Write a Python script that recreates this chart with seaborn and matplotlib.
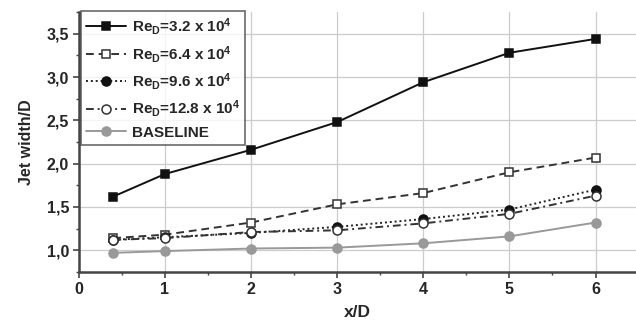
import matplotlib
matplotlib.use("Agg")
import matplotlib.pyplot as plt
import seaborn as sns
import pandas as pd
import numpy as np

x_d = [0.4, 1, 2, 3, 4, 5, 6]
re32 = [1.62, 1.88, 2.16, 2.48, 2.94, 3.28, 3.44]
re64 = [1.14, 1.18, 1.32, 1.53, 1.66, 1.90, 2.07]
re96 = [1.12, 1.15, 1.20, 1.27, 1.36, 1.47, 1.70]
re128 = [1.12, 1.14, 1.21, 1.23, 1.31, 1.42, 1.63]
baseline = [0.97, 0.99, 1.02, 1.03, 1.08, 1.16, 1.32]

labels = [r"Re$_\mathbf{D}$=3.2 x 10$^\mathbf{4}$",
          r"Re$_\mathbf{D}$=6.4 x 10$^\mathbf{4}$",
          r"Re$_\mathbf{D}$=9.6 x 10$^\mathbf{4}$",
          r"Re$_\mathbf{D}$=12.8 x 10$^\mathbf{4}$",
          "BASELINE"]
series = [re32, re64, re96, re128, baseline]

xticks = [0, 1, 2, 3, 4, 5, 6]
yticks = [1.0, 1.5, 2.0, 2.5, 3.0, 3.5]
ytick_labels = ["1,0", "1,5", "2,0", "2,5", "3,0", "3,5"]

sns.set_style("white")
plt.rcParams["font.family"] = ["Liberation Sans", "DejaVu Sans"]
plt.rcParams["font.weight"] = "bold"
plt.rcParams["mathtext.fontset"] = "custom"
plt.rcParams["mathtext.rm"] = "Liberation Sans:bold"
plt.rcParams["mathtext.bf"] = "Liberation Sans:bold"
plt.rcParams["mathtext.default"] = "bf"

fig = plt.figure(figsize=(6.36, 3.26), dpi=100)
ax = fig.add_axes([0.124, 0.166, 0.876, 0.797])

styles = [
    dict(color="#111111", linestyle="-", marker="s", mfc="#111111", mec="#111111"),
    dict(color="#333333", linestyle=(0, (4, 2.5)), marker="s", mfc="white", mec="#333333"),
    dict(color="#222222", linestyle=(0, (1, 1.5)), marker="o", mfc="#111111", mec="#111111"),
    dict(color="#333333", linestyle=(0, (4, 2, 1, 2)), marker="o", mfc="white", mec="#333333"),
    dict(color="#999999", linestyle="-", marker="o", mfc="#999999", mec="#999999"),
]

for vals, lab, st in zip(series, labels, styles):
    df = pd.DataFrame({"x": x_d, "y": vals})
    sns.lineplot(data=df, x="x", y="y", ax=ax, label=lab, color=st["color"],
                 linewidth=1.4, markersize=6.5 if st["marker"] == "o" else 5.5,
                 marker=st["marker"], markerfacecolor=st["mfc"],
                 markeredgecolor=st["mec"], markeredgewidth=1.1)
    ax.lines[-1].set_linestyle(st["linestyle"])

ax.set_xlim(0, 6.47)
ax.set_ylim(0.75, 3.75)
ax.set_xticks(xticks)
ax.set_xticklabels([str(t) for t in xticks], fontsize=11.5, fontweight="bold")
ax.set_yticks(yticks)
ax.set_yticklabels(ytick_labels, fontsize=11.5, fontweight="bold")
ax.set_xticks(np.arange(0.5, 6.5, 1.0), minor=True)
ax.set_yticks(np.arange(0.75, 3.76, 0.5), minor=True)
ax.tick_params(axis="both", which="major", direction="out", length=4, width=1.2,
               color="#444444", pad=3, bottom=True, left=True)
ax.tick_params(axis="both", which="minor", direction="out", length=2.5, width=1.0,
               color="#444444", bottom=True, left=True)
ax.grid(True, which="major", color="#cccccc", linewidth=0.9)
ax.set_axisbelow(True)
for s in ["top", "right"]:
    ax.spines[s].set_visible(False)
for s in ["left", "bottom"]:
    ax.spines[s].set_color("#444444")
    ax.spines[s].set_linewidth(1.8)

ax.set_xlabel("x/D", fontsize=12.5, fontweight="bold", labelpad=6)
ax.set_ylabel("Jet width/D", fontsize=11.5, fontweight="bold", labelpad=9)

leg = ax.legend(loc="upper left", bbox_to_anchor=(0.003, 1.005), fontsize=11,
                frameon=True, fancybox=False, edgecolor="#444444",
                handlelength=2.6, handletextpad=0.4, borderpad=0.35,
                labelspacing=0.42, borderaxespad=0.0)
leg.get_frame().set_linewidth(1.2)
for t in leg.get_texts():
    t.set_fontweight("bold")

fig.savefig("out.png", dpi=100)
